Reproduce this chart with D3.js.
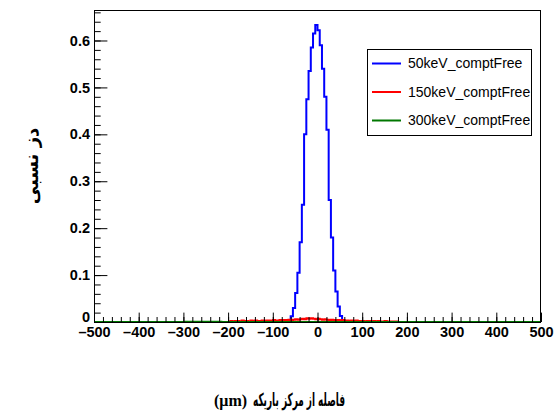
<!DOCTYPE html>
<html><head><meta charset="utf-8">
<script src="https://cdn.jsdelivr.net/npm/d3@7"></script>
<style>body{margin:0;background:#fff}svg{display:block}</style>
</head><body>
<svg id="c" width="558" height="420"></svg>
<script>
// ---- data (bin width 5 µm, histogram range -500..500) ----
const binWidth = 5;
const xRange = [-500, 500];
const xTicks = [-500,-400,-300,-200,-100,0,100,200,300,400,500];
const yTicks = [0,0.1,0.2,0.3,0.4,0.5,0.6];
const seriesNames = ["50keV_comptFree","150keV_comptFree","300keV_comptFree"];
const seriesColors = ["#0000ff","#ff0000","#007700"];

// 50 keV: first bin starts at -65
const blueStart = -65;
const blueValues = [0.003,0.012,0.03,0.062,0.105,0.17,0.25,0.40,0.475,0.535,0.585,0.615,0.633,
  0.622,0.59,0.54,0.48,0.41,0.26,0.18,0.11,0.065,0.033,0.013,0.004];

// 150 keV: first bin starts at -195
const redStart = -195;
const redValues = [0.002,0.001,0.002,0.002,0.001,0.003,0.002,0.002,0.001,0.003,
  0.002,0.003,0.002,0.002,0.003,0.002,0.003,0.003,0.002,0.004,
  0.003,0.003,0.004,0.003,0.004,0.004,0.005,0.004,0.005,0.006,
  0.005,0.006,0.007,0.006,0.008,0.007,0.008,0.007,0.006,0.007,
  0.006,0.005,0.006,0.005,0.004,0.005,0.004,0.003,0.004,0.003,
  0.004,0.003,0.003,0.002,0.003,0.002,0.003,0.002,0.002,0.002,
  0.001,0.002,0.002,0.001,0.002,0.001,0.002,0.001,0.001,0.002,
  0.001,0.001,0.001,0.001,0.001];

// 300 keV: essentially zero
const greenStart = -300;
const greenValues = [0.0002,0.0003,0.0002,0.0004,0.0003,0.0005,0.0004,0.0006,0.0005,0.0004,
  0.0005,0.0006,0.0004,0.0005,0.0003,0.0004,0.0003,0.0002];

const xTitleUnit = "(μm)";
const xTitleText = "فاصله از مرکز باریکه";
const yTitle = "دز نسبی";

// ---- drawing ----
const svg = d3.select("#c");
const L = 94, R = 541, T = 10, B = 322;
const x = d3.scaleLinear().domain(xRange).range([L, R]);
const y = d3.scaleLinear().domain([0, 0.665]).range([B, T]);

svg.append("rect").attr("width",558).attr("height",420).attr("fill","#fff");
svg.append("defs").append("clipPath").attr("id","clip")
  .append("rect").attr("x",L).attr("y",T).attr("width",R-L).attr("height",B-T);

function fullHist(start, vals){
  const n = (xRange[1]-xRange[0])/binWidth;
  const out = [];
  for (let i=0;i<n;i++){
    const lo = xRange[0]+i*binWidth;
    const k = Math.round((lo-start)/binWidth);
    out.push({x:lo, v:(k>=0 && k<vals.length)?vals[k]:0});
  }
  out.push({x:xRange[1], v:out[out.length-1].v});
  return out;
}
const line = d3.line().x(d=>x(d.x)).y(d=>y(d.v)).curve(d3.curveStepAfter);
const series = [[blueStart,blueValues],[redStart,redValues],[greenStart,greenValues]];
const g = svg.append("g").attr("clip-path","url(#clip)");
series.forEach((s,i)=>{
  g.append("path").datum(fullHist(s[0],s[1])).attr("d",line)
   .attr("fill","none").attr("stroke",seriesColors[i]).attr("stroke-width",2)
   .attr("stroke-linejoin","miter");
});

// frame
svg.append("rect").attr("x",L+0.5).attr("y",T+0.5).attr("width",R-L-1).attr("height",B-T)
  .attr("fill","none").attr("stroke","#000").attr("stroke-width",1);

const fontTick = "'Liberation Sans', Arial, sans-serif";
// x axis
const xMinor = d3.range(-500, 501, 20);
const gx = svg.append("g").attr("transform",`translate(0,${B})`);
gx.call(d3.axisBottom(x).tickValues(xMinor).tickSize(-5).tickFormat(""));
gx.call(g2=>g2.select(".domain").remove());
const gx2 = svg.append("g").attr("transform",`translate(0,${B})`);
gx2.call(d3.axisBottom(x).tickValues(xTicks).tickSize(-9.4).tickPadding(5)
  .tickFormat(d=> d<0 ? "\u2013"+Math.abs(d) : String(d)));
gx2.select(".domain").remove();
gx2.selectAll("text").attr("font-family",fontTick).attr("font-size",14.5).attr("font-weight","bold").attr("fill","#000");

// y axis
const yMinor = d3.range(0, 0.661, 0.02);
const gy = svg.append("g").attr("transform",`translate(${L},0)`);
gy.call(d3.axisLeft(y).tickValues(yMinor).tickSize(-6.7).tickFormat(""));
gy.select(".domain").remove();
const gy2 = svg.append("g").attr("transform",`translate(${L},0)`);
gy2.call(d3.axisLeft(y).tickValues(yTicks).tickSize(-13.4).tickPadding(4)
  .tickFormat(d=> d===0 ? "0" : d3.format(".1f")(d)));
gy2.select(".domain").remove();
gy2.selectAll("text").attr("font-family",fontTick).attr("font-size",14.5).attr("font-weight","bold").attr("fill","#000");
gy2.selectAll(".tick").filter(d=>d===0).select("text").attr("dy","-0.02em");
svg.selectAll(".tick line").attr("stroke","#000").attr("stroke-width",1);

// legend
const lg = svg.append("g");
lg.append("rect").attr("x",367.5).attr("y",49.5).attr("width",164).attr("height",86)
  .attr("fill","#fff").attr("stroke","#000").attr("stroke-width",1);
const ly = [63.5, 92, 120.5];
seriesNames.forEach((n,i)=>{
  lg.append("line").attr("x1",372).attr("x2",401).attr("y1",ly[i]).attr("y2",ly[i])
    .attr("stroke",seriesColors[i]).attr("stroke-width",2);
  lg.append("text").attr("x",408).attr("y",ly[i]).attr("dy","0.35em")
    .attr("font-family",fontTick).attr("font-size",14).attr("fill","#000").text(n);
});

// titles
svg.append("text").attr("transform","translate(38,166) rotate(-90)")
  .attr("text-anchor","middle").attr("font-family","'DejaVu Sans', sans-serif")
  .attr("font-weight","bold").attr("font-size",18).attr("fill","#000").text(yTitle);
const xt = svg.append("g");
xt.append("text").attr("x",214).attr("y",406)
  .attr("font-family","'Liberation Serif', serif")
  .attr("font-weight","bold").attr("font-size",16).attr("fill","#000").text(xTitleUnit);
xt.append("text").attr("x",345).attr("y",406).attr("text-anchor","end")
  .attr("font-family","'DejaVu Sans', sans-serif").attr("direction","ltr")
  .attr("font-weight","bold").attr("font-size",18)
  .attr("textLength",92).attr("lengthAdjust","spacingAndGlyphs")
  .attr("fill","#000").text(xTitleText);
</script>
</body></html>
